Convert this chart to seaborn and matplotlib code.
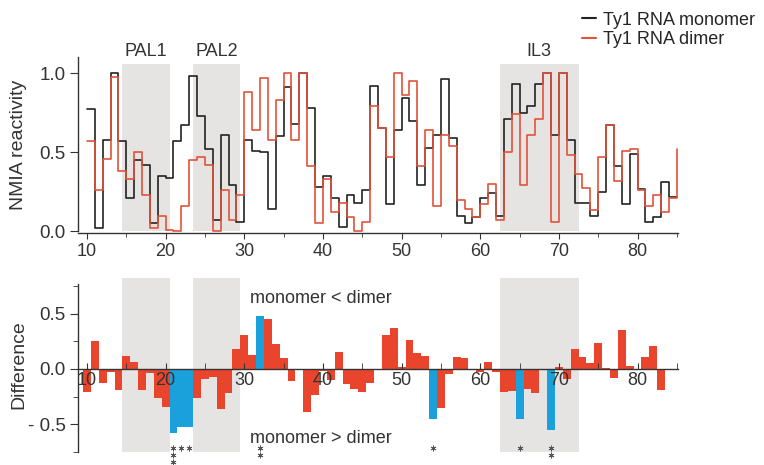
import numpy as np
import pandas as pd
import matplotlib.pyplot as plt
import seaborn as sns

# residue positions 10..85
positions = list(range(10, 86))

monomer = [0.77, 0.02, 0.58, 1.00, 0.57, 0.21, 0.45, 0.42, 0.05, 0.35,
           0.34, 0.57, 0.67, 0.98, 0.73, 0.52, 0.07, 0.61, 0.29, 0.06,
           0.58, 0.51, 0.50, 0.14, 0.60, 0.91, 0.68, 1.00, 0.78, 0.28,
           0.35, 0.21, 0.03, 0.23, 0.18, 0.26, 0.92, 0.65, 0.17, 0.64,
           0.84, 0.70, 0.29, 0.525, 0.61, 0.96, 0.59, 0.10, 0.05, 0.09,
           0.21, 0.24, 0.10, 0.71, 0.93, 0.75, 0.79, 0.93, 1.00, 0.61,
           1.00, 0.58, 0.18, 0.18, 0.10, 0.25, 0.67, 0.41, 0.17, 0.49,
           0.27, 0.06, 0.09, 0.31, 0.22, 0.22]

dimer = [0.57, 0.26, 0.46, 0.975, 0.38, 0.33, 0.50, 0.23, 0.02, 0.10,
         0.01, 0.00, 0.16, 0.45, 0.47, 0.42, 0.00, 0.26, 0.07, 0.23,
         0.88, 0.64, 0.97, 0.58, 0.83, 1.00, 0.58, 1.00, 0.41, 0.05,
         0.33, 0.12, 0.18, 0.09, 0.00, 0.06, 0.79, 0.65, 0.47, 1.00,
         0.86, 0.95, 0.41, 0.64, 0.16, 0.61, 0.54, 0.20, 0.14, 0.09,
         0.17, 0.30, 0.07, 0.50, 0.74, 0.29, 0.61, 0.71, 1.00, 0.06,
         1.00, 0.48, 0.36, 0.275, 0.135, 0.47, 0.67, 0.32, 0.51, 0.52,
         0.26, 0.16, 0.23, 0.125, 0.21, 0.52]

# difference (dimer - monomer), residues 10..84
diff_pos = list(range(10, 85))
difference = [-0.21, 0.25, -0.13, -0.03, -0.19, 0.12, 0.06, -0.19, -0.04, -0.26,
              -0.34, -0.575, -0.52, -0.525, -0.26, -0.09, -0.07, -0.36, -0.22, 0.18,
              0.31, 0.13, 0.475, 0.45, 0.225, 0.10, -0.11, 0.0, -0.39, -0.24,
              -0.02, -0.10, 0.15, -0.14, -0.18, -0.21, -0.13, -0.01, 0.31, 0.37,
              0.02, 0.265, 0.14, 0.12, -0.455, -0.35, -0.05, 0.11, 0.095, 0.0,
              -0.03, 0.06, -0.03, -0.21, -0.20, -0.45, -0.18, -0.22, 0.0, -0.555,
              0.02, -0.09, 0.18, 0.11, 0.05, 0.23, 0.01, -0.08, 0.35, 0.03,
              -0.01, 0.11, 0.21, -0.19, -0.01]

sig_pos = [21, 22, 23, 32, 54, 65, 69]
sig_stars = [3, 1, 1, 2, 1, 1, 2]

regions = [("PAL1", 14.5, 20.5), ("PAL2", 23.5, 29.5), ("IL3", 62.5, 72.5)]

RED_LINE = "#e0533a"
RED_BAR = "#e8452c"
BLUE_BAR = "#1aa1dc"
SHADE = "#e6e4e2"
DARK = "#333333"

sns.set_style("ticks")
plt.rcParams["font.family"] = ["Liberation Sans", "DejaVu Sans"]
plt.rcParams["font.size"] = 12

fig = plt.figure(figsize=(7.64, 4.65), dpi=100)
ax1 = fig.add_axes([0.102, 0.499, 0.785, 0.378])
ax2 = fig.add_axes([0.102, 0.028, 0.785, 0.374])

# ---- top panel: reactivity profiles
prof = pd.DataFrame({"pos": positions * 2,
                     "val": monomer + dimer,
                     "form": ["Ty1 RNA monomer"] * len(positions) + ["Ty1 RNA dimer"] * len(positions)})
for name, lo, hi in regions:
    ax1.fill_between([lo, hi], 0, 1.06, color=SHADE, lw=0, zorder=0)
    ax1.text((lo + hi) / 2, 1.135, name, ha="center", va="center", fontsize=13,
             color=DARK, clip_on=False)
sns.lineplot(data=prof, x="pos", y="val", hue="form",
             palette={"Ty1 RNA monomer": "#222222", "Ty1 RNA dimer": RED_LINE},
             drawstyle="steps-post", estimator=None, lw=1.2, ax=ax1, legend=False)
ax1.set_xlim(8.85, 85.1)
ax1.set_ylim(-0.01, 1.1)
ax1.spines["left"].set_bounds(0, 1.1)
ax1.set_yticks([0, 0.5, 1.0])
ax1.set_xticks(range(10, 81, 10))
ax1.set_xticks(range(15, 86, 10), minor=True)
ax1.set_xlabel("")
ax1.set_ylabel("NMIA reactivity", fontsize=14, color=DARK)
ax1.yaxis.set_label_coords(-0.085, 0.5)
sns.despine(ax=ax1)

# ---- bottom panel: difference
dd = pd.DataFrame({"pos": diff_pos, "diff": difference,
                   "sig": [p in sig_pos for p in diff_pos]})
for name, lo, hi in regions:
    ax2.fill_between([lo, hi], -0.75, 0.82, color=SHADE, lw=0, zorder=0)
sns.barplot(data=dd, x="pos", y="diff", hue="sig", native_scale=True,
            palette={False: RED_BAR, True: BLUE_BAR}, width=1, dodge=False,
            errorbar=None, saturation=1, legend=False, linewidth=0, ax=ax2)
# make bars touch each other (one residue wide)
for bar in ax2.patches:
    c = bar.get_x() + bar.get_width() / 2
    bar.set_width(1.0)
    bar.set_x(c - 0.5)
    bar.set_linewidth(0)
    bar.set_zorder(1)

star_x, star_y = [], []
for p, n in zip(sig_pos, sig_stars):
    for k in range(n):
        star_x.append(p)
        star_y.append(-0.71 - 0.065 * k)
ax2.scatter(star_x, star_y, marker=(6, 2, 0), s=14, lw=0.6, color="#555555",
            clip_on=False, zorder=5)

ax2.text(30.7, 0.64, "monomer < dimer", ha="left", va="center", fontsize=13, color=DARK)
ax2.text(30.7, -0.625, "monomer > dimer", ha="left", va="center", fontsize=13, color=DARK)
ax2.set_xlim(8.85, 85.1)
ax2.set_ylim(-0.75, 0.82)
ax2.spines["left"].set_bounds(-0.75, 0.77)
ax2.spines["bottom"].set_position(("data", 0))
ax2.spines["bottom"].set_zorder(3)
ax2.xaxis.set_zorder(4)
ax2.set_yticks([-0.5, 0, 0.5])
ax2.set_yticklabels(["- 0.5", "0.0", "0.5"])
ax2.set_yticks([-0.75, -0.25, 0.25, 0.75], minor=True)
ax2.set_xticks(range(10, 81, 10))
ax2.set_xticklabels([str(v) for v in range(10, 81, 10)])
ax2.set_xticks(range(15, 86, 10), minor=True)
ax2.set_xlabel("")
ax2.set_ylabel("Difference", fontsize=14, color=DARK)
ax2.yaxis.set_label_coords(-0.085, 0.5)
sns.despine(ax=ax2)

for ax in (ax1, ax2):
    ax.tick_params(which="major", length=6, color=DARK, labelcolor=DARK)
    ax.tick_params(which="minor", length=3.5, color=DARK)
    ax.tick_params(axis="y", labelsize=13.5, pad=3)
    for s in ("left", "bottom"):
        ax.spines[s].set_color(DARK)
        ax.spines[s].set_linewidth(1.0)
ax1.tick_params(axis="x", which="major", length=4, labelsize=13)
ax1.tick_params(axis="x", which="minor", length=3)
ax2.tick_params(axis="x", which="both", direction="in", length=4, pad=2, labelsize=13)

handles = [plt.Line2D([], [], color="#222222", lw=1.5),
           plt.Line2D([], [], color=RED_LINE, lw=1.5)]
fig.legend(handles, ["Ty1 RNA monomer", "Ty1 RNA dimer"], loc="upper left",
           bbox_to_anchor=(0.74, 1.01), frameon=False, handlelength=0.8,
           handletextpad=0.4, labelspacing=0.15, fontsize=13)

fig.savefig("out.png", dpi=100)
